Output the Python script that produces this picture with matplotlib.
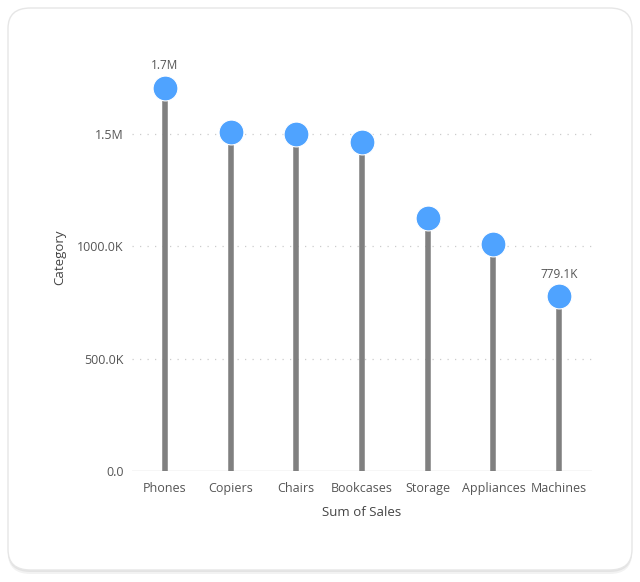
import matplotlib
matplotlib.use("Agg")
import matplotlib.pyplot as plt
from matplotlib.patches import FancyBboxPatch

categories = ["Phones", "Copiers", "Chairs", "Bookcases", "Storage", "Appliances", "Machines"]
sales = [1706824, 1509436, 1501682, 1466572, 1127086, 1011064, 779060]
yticks = [0, 500000, 1000000, 1500000]
ytick_labels = ["0.0", "500.0K", "1000.0K", "1.5M"]
point_labels = {0: "1.7M", 6: "779.1K"}

plt.rcParams['font.family'] = ['Open Sans', 'DejaVu Sans']

fig = plt.figure(figsize=(6.4, 5.82), dpi=100)
fig.patch.set_facecolor("white")

W, H = 640, 582
def fx(px): return px / W
def fy(py): return 1 - py / H
for off, alpha in [(4, 0.05), (2, 0.06)]:
    sh = FancyBboxPatch((fx(8), fy(570 + off)), fx(624), 562 / H,
                        boxstyle="round,pad=0,rounding_size=0.035",
                        transform=fig.transFigure, facecolor="black", alpha=alpha,
                        edgecolor="none", zorder=-3)
    fig.patches.append(sh)
card = FancyBboxPatch((fx(8), fy(570)), fx(624), 562 / H,
                      boxstyle="round,pad=0,rounding_size=0.035",
                      transform=fig.transFigure, facecolor="white",
                      edgecolor="#e6e6e6", linewidth=1.0, zorder=-2)
fig.patches.append(card)

ax = fig.add_axes([132 / W, 1 - 471 / H, (592 - 132) / W, (471 - 44) / H])
ax.set_zorder(1)
ax.set_facecolor("none")
x = list(range(len(categories)))

ax.vlines(x, 0, sales, color="#808080", linewidth=4, zorder=3)
ax.scatter(x, sales, s=320, color="#4fa3ff", edgecolor="white", linewidth=0.8, zorder=4)

for i, lab in point_labels.items():
    ax.annotate(lab, (x[i], sales[i]), xytext=(0, 11), textcoords="offset points",
                ha="center", va="bottom", fontsize=8.5, color="#555555")

ax.set_xlim(-0.5, len(categories) - 0.5)
ax.set_ylim(0, 1500000 * 427 / 337)
ax.set_yticks(yticks)
ax.set_yticklabels(ytick_labels)
ax.set_xticks(x)
ax.set_xticklabels(categories)
ax.tick_params(axis="both", length=0, labelsize=9, colors="#555555")
ax.tick_params(axis="x", pad=8)
ax.tick_params(axis="y", pad=6)

for t in yticks[1:]:
    ax.axhline(t, color="#cccccc", linestyle=(0, (1, 5)), linewidth=0.9, zorder=1)
ax.axhline(0, color="#d4d4d4", linewidth=1.0, zorder=2)

for s in ax.spines.values():
    s.set_visible(False)

ax.set_xlabel("Sum of Sales", fontsize=9.5, color="#444444", labelpad=8)
ax.set_ylabel("Category", fontsize=9.5, color="#444444", labelpad=8)

fig.savefig("out.png", dpi=100)
